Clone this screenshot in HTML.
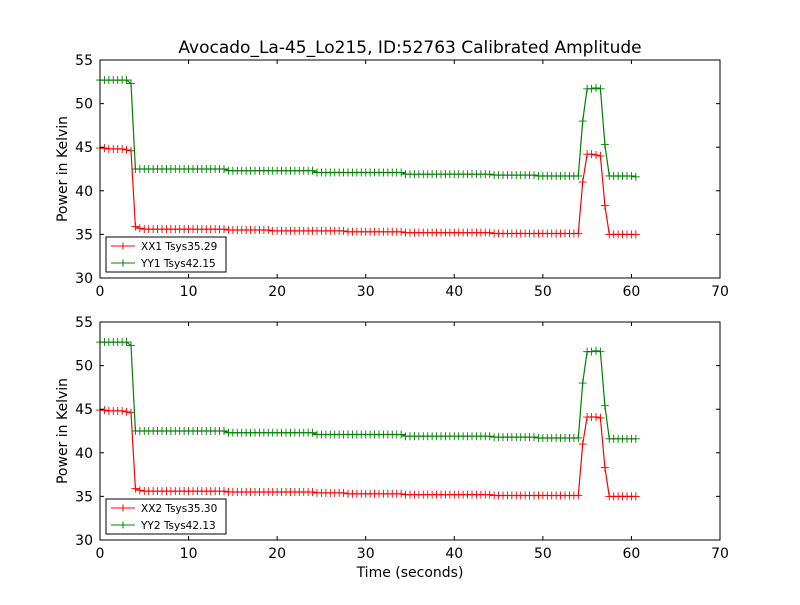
<!DOCTYPE html>
<html><head><meta charset="utf-8"><style>
body{margin:0;background:#fff}
svg text{font-family:"DejaVu Sans","Liberation Sans",sans-serif;fill:#000}
</style></head><body>
<svg id="c" width="800" height="600" xmlns="http://www.w3.org/2000/svg">
<rect width="800" height="600" fill="#fff"/>
<text x="410" y="53" font-size="17" text-anchor="middle">Avocado_La-45_Lo215, ID:52763 Calibrated Amplitude</text>
<text x="410" y="577" font-size="14" text-anchor="middle">Time (seconds)</text>
</svg>
<script>
const xTicks=[0,10,20,30,40,50,60,70];
const yTicks=[30,35,40,45,50,55];
const dt=0.5;
const topGreen=[52.7,52.7,52.7,52.7,52.7,52.7,52.7,52.3,42.5,
42.5,42.5,42.5,42.5,42.5,42.5,42.5,42.5,42.5,42.5,42.5,42.5,42.5,42.5,42.5,42.5,42.5,42.5,42.5,42.5,
42.3,42.3,42.3,42.3,42.3,42.3,42.3,42.3,42.3,42.3,42.3,42.3,42.3,42.3,42.3,42.3,42.3,42.3,42.3,42.3,
42.1,42.1,42.1,42.1,42.1,42.1,42.1,42.1,42.1,42.1,42.1,42.1,42.1,42.1,42.1,42.1,42.1,42.1,42.1,42.1,
41.9,41.9,41.9,41.9,41.9,41.9,41.9,41.9,41.9,41.9,41.9,41.9,41.9,41.9,41.9,41.9,41.9,41.9,41.9,41.9,
41.8,41.8,41.8,41.8,41.8,41.8,41.8,41.8,41.8,41.8,41.7,41.7,41.7,41.7,41.7,41.7,41.7,41.7,41.7,41.7,
48.0,51.7,51.7,51.8,51.7,45.3,41.7,41.7,41.7,41.7,41.7,41.7,41.6];
const topRed=[44.9,44.9,44.8,44.8,44.8,44.8,44.7,44.6,35.9,
35.7,35.6,35.6,35.6,35.6,35.6,35.6,35.6,35.6,35.6,35.6,35.6,35.6,35.6,35.6,35.6,35.6,35.6,35.6,35.6,
35.5,35.5,35.5,35.5,35.5,35.5,35.5,35.5,35.5,35.5,35.4,35.4,35.4,35.4,35.4,35.4,35.4,35.4,35.4,35.4,
35.4,35.4,35.4,35.4,35.4,35.4,35.4,35.3,35.3,35.3,35.3,35.3,35.3,35.3,35.3,35.3,35.3,35.3,35.3,35.3,
35.2,35.2,35.2,35.2,35.2,35.2,35.2,35.2,35.2,35.2,35.2,35.2,35.2,35.2,35.2,35.2,35.2,35.2,35.2,35.2,
35.1,35.1,35.1,35.1,35.1,35.1,35.1,35.1,35.1,35.1,35.1,35.1,35.1,35.1,35.1,35.1,35.1,35.1,35.1,35.1,
41.0,44.2,44.2,44.1,44.0,38.3,35.0,35.0,35.0,35.0,35.0,35.0,35.0];
const botGreen=[52.7,52.7,52.7,52.7,52.7,52.7,52.7,52.3,42.5,
42.5,42.5,42.5,42.5,42.5,42.5,42.5,42.5,42.5,42.5,42.5,42.5,42.5,42.5,42.5,42.5,42.5,42.5,42.5,42.5,
42.3,42.3,42.3,42.3,42.3,42.3,42.3,42.3,42.3,42.3,42.3,42.3,42.3,42.3,42.3,42.3,42.3,42.3,42.3,42.3,
42.1,42.1,42.1,42.1,42.1,42.1,42.1,42.1,42.1,42.1,42.1,42.1,42.1,42.1,42.1,42.1,42.1,42.1,42.1,42.1,
41.9,41.9,41.9,41.9,41.9,41.9,41.9,41.9,41.9,41.9,41.9,41.9,41.9,41.9,41.9,41.9,41.9,41.9,41.9,41.9,
41.8,41.8,41.8,41.8,41.8,41.8,41.8,41.8,41.8,41.8,41.7,41.7,41.7,41.7,41.7,41.7,41.7,41.7,41.7,41.7,
48.0,51.6,51.6,51.7,51.6,45.4,41.6,41.6,41.6,41.6,41.6,41.6,41.6];
const botRed=[44.9,44.9,44.8,44.8,44.8,44.8,44.7,44.6,35.9,
35.7,35.6,35.6,35.6,35.6,35.6,35.6,35.6,35.6,35.6,35.6,35.6,35.6,35.6,35.6,35.6,35.6,35.6,35.6,35.6,
35.5,35.5,35.5,35.5,35.5,35.5,35.5,35.5,35.5,35.5,35.5,35.5,35.5,35.5,35.5,35.5,35.5,35.5,35.5,35.5,
35.4,35.4,35.4,35.4,35.4,35.4,35.4,35.3,35.3,35.3,35.3,35.3,35.3,35.3,35.3,35.3,35.3,35.3,35.3,35.3,
35.2,35.2,35.2,35.2,35.2,35.2,35.2,35.2,35.2,35.2,35.2,35.2,35.2,35.2,35.2,35.2,35.2,35.2,35.2,35.2,
35.1,35.1,35.1,35.1,35.1,35.1,35.1,35.1,35.1,35.1,35.1,35.1,35.1,35.1,35.1,35.1,35.1,35.1,35.1,35.1,
41.0,44.1,44.1,44.1,44.0,38.3,35.0,35.0,35.0,35.0,35.0,35.0,35.0];
const topLabels=["XX1 Tsys35.29","YY1 Tsys42.15"];
const botLabels=["XX2 Tsys35.30","YY2 Tsys42.13"];

const NS="http://www.w3.org/2000/svg";
const svg=document.getElementById('c');
function mk(tag,attrs,parent){const e=document.createElementNS(NS,tag);for(const k in attrs)e.setAttribute(k,attrs[k]);(parent||svg).appendChild(e);return e;}
const X0=100,X1=720,XMAX=70;
function panel(top,name,red,green,labels){
  const bot=top+218;
  const g=mk('g',{});
  
  
  const xs=v=>X0+v*(X1-X0)/XMAX;
  const ys=v=>top+(55-v)*218/25;
  const series=[[red,'#ff0000','red-series'],[green,'#008000','green-series']];
  series.forEach(([arr,col,nm])=>{
    const sg=mk('g',{},g);
    
    
    const pts=arr.map((v,i)=>xs(i*dt).toFixed(1)+','+ys(v).toFixed(1)).join(' ');
    const pl=mk('polyline',{points:pts,fill:'none',stroke:col,'stroke-width':1.2},sg);
    
    
    let d='';
    arr.forEach((v,i)=>{const x=xs(i*dt),y=ys(v);d+=`M${x-4},${y}h8M${x},${y-4}v8`;});
    const mp=mk('path',{d:d,stroke:col,'stroke-width':0.9,fill:'none'},sg);
    
    
  });
  const fr=mk('rect',{x:X0,y:top,width:X1-X0,height:218,fill:'none',stroke:'#000','stroke-width':1},g);
  
  
  xTicks.forEach(t=>{
    const x=xs(t);
    mk('path',{d:`M${x},${bot}v-4M${x},${top}v4`,stroke:'#000'},g);
    const tx=mk('text',{x:x,y:bot+18,'font-size':14,'text-anchor':'middle'},g);
    
    
    tx.textContent=t;
  });
  yTicks.forEach(t=>{
    const y=ys(t);
    mk('path',{d:`M${X0},${y}h4M${X1},${y}h-4`,stroke:'#000'},g);
    const tx=mk('text',{x:X0-7,y:y+5,'font-size':14,'text-anchor':'end'},g);
    
    
    tx.textContent=t;
  });
  const yt=mk('text',{x:0,y:0,'font-size':14,'text-anchor':'middle',transform:`translate(67,${top+109}) rotate(-90)`},g);
  
  
  yt.textContent='Power in Kelvin';
  const lg=mk('g',{},g);
  
  
  mk('rect',{x:106,y:bot-41,width:120,height:35,fill:'#fff',stroke:'#000'},lg);
  [['#ff0000',labels[0]],['#008000',labels[1]]].forEach(([col,lab],i)=>{
    const y=bot-32+i*17;
    mk('path',{d:`M111,${y}h24M123,${y-3.5}v7M119.5,${y}h7`,stroke:col,'stroke-width':1},lg);
    const tx=mk('text',{x:141,y:y+4,'font-size':10.5},lg);
    
    
    tx.textContent=lab;
  });
}
panel(60,'top-panel',topRed,topGreen,topLabels);
panel(322,'bottom-panel',botRed,botGreen,botLabels);
</script>
</body></html>
